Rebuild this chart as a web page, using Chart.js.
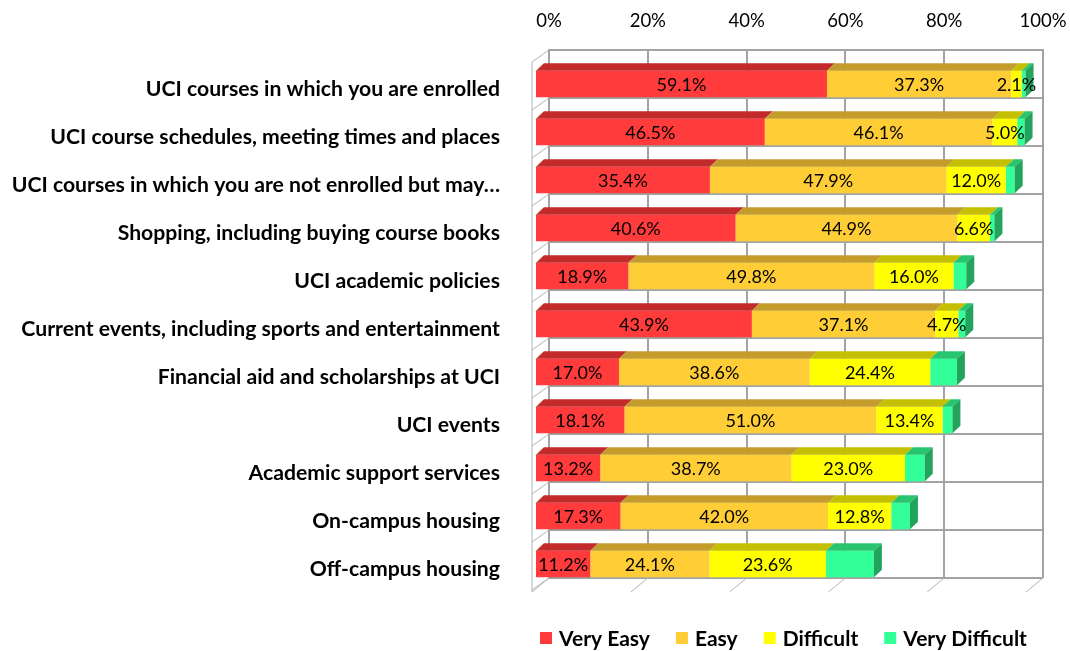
<!DOCTYPE html>
<html>
<head>
<meta charset="utf-8">
<script src="https://cdn.jsdelivr.net/npm/chart.js@4.4.1/dist/chart.umd.min.js"></script>
<style>
  html, body { margin: 0; padding: 0; background: #fff; }
  #wrap { width: 1070px; height: 651px; position: relative; }
</style>
</head>
<body>
<div id="wrap"><canvas id="chart"></canvas></div>
<script>
// ── DADOS ─────────────────────────────────────────────────────────
const categories = [
  'UCI courses in which you are enrolled',
  'UCI course schedules, meeting times and places',
  'UCI courses in which you are not enrolled but may…',
  'Shopping, including buying course books',
  'UCI academic policies',
  'Current events, including sports and entertainment',
  'Financial aid and scholarships at UCI',
  'UCI events',
  'Academic support services',
  'On-campus housing',
  'Off-campus housing'
];
const seriesNames = ['Very Easy', 'Easy', 'Difficult', 'Very Difficult'];
const veryEasy      = [59.1, 46.5, 35.4, 40.6, 18.9, 43.9, 17.0, 18.1, 13.2, 17.3, 11.2];
const easy          = [37.3, 46.1, 47.9, 44.9, 49.8, 37.1, 38.6, 51.0, 38.7, 42.0, 24.1];
const difficult     = [2.1, 5.0, 12.0, 6.6, 16.0, 4.7, 24.4, 13.4, 23.0, 12.8, 23.6];
const veryDifficult = [0.8, 1.5, 1.8, 0.9, 2.6, 1.4, 5.4, 2.0, 4.0, 3.8, 9.7];
const xTicks = [0, 20, 40, 60, 80, 100];

// ── ESTILO ────────────────────────────────────────────────────────
const frontC = ['#FF3B3B', '#FFCD35', '#FFFF00', '#33FF99'];
const topC   = ['#C22A2B', '#C49C2C', '#C4C000', '#28C46E'];
const sideC  = '#22A45C';
const gridC  = '#A3A3A3';
const FONT   = 'Lato, "Open Sans", sans-serif';
const DX = 8, DY = 7.5;              // profundidade 3D
const SHIFT_X = -14, SHIFT_Y = 10;   // face frontal vs parede do fundo

const labelled = [true, true, true, false];

const bar3d = {
  id: 'bar3d',
  beforeDatasetsDraw(chart) {
    const ctx = chart.ctx;
    const a = chart.chartArea;
    const xs = chart.scales.x;
    // parede esquerda / chão (perspectiva)
    ctx.save();
    ctx.strokeStyle = '#B4B4B4';
    ctx.lineWidth = 1;
    const fx = a.left + SHIFT_X - 3;
    ctx.beginPath();
    ctx.moveTo(fx, a.top + 12);
    ctx.lineTo(fx, a.bottom + 14);
    for (let i = 0; i <= categories.length; i++) {
      const y = a.top + (a.bottom - a.top) * i / categories.length;
      ctx.moveTo(a.left, y);
      ctx.lineTo(fx, y + 12);
    }
    xTicks.forEach(v => {
      const x = xs.getPixelForValue(v);
      ctx.moveTo(x, a.bottom);
      ctx.lineTo(x + SHIFT_X - 3, a.bottom + 14);
    });
    ctx.stroke();
    ctx.restore();

    ctx.save();
    ctx.translate(SHIFT_X, SHIFT_Y);
  },
  afterDatasetsDraw(chart) {
    const ctx = chart.ctx;
    const n = chart.data.datasets.length;
    chart.data.datasets.forEach((ds, di) => {
      const meta = chart.getDatasetMeta(di);
      meta.data.forEach(el => {
        const { x, y, base, height } = el.getProps(['x', 'y', 'base', 'height'], true);
        const t = y - height / 2;
        const b = y + height / 2;
        ctx.fillStyle = topC[di];
        ctx.beginPath();
        ctx.moveTo(base, t);
        ctx.lineTo(x, t);
        ctx.lineTo(x + DX, t - DY);
        ctx.lineTo(base + DX, t - DY);
        ctx.closePath();
        ctx.fill();
        if (di === n - 1) {
          ctx.fillStyle = sideC;
          ctx.beginPath();
          ctx.moveTo(x, t);
          ctx.lineTo(x + DX, t - DY);
          ctx.lineTo(x + DX, b - DY);
          ctx.lineTo(x, b);
          ctx.closePath();
          ctx.fill();
        }
      });
    });
    // rótulos
    ctx.fillStyle = '#000';
    ctx.font = '18px ' + FONT;
    ctx.textAlign = 'center';
    ctx.textBaseline = 'middle';
    chart.data.datasets.forEach((ds, di) => {
      if (!labelled[di]) return;
      const meta = chart.getDatasetMeta(di);
      meta.data.forEach((el, i) => {
        const { x, y, base } = el.getProps(['x', 'y', 'base'], true);
        ctx.fillText(ds.data[i].toFixed(1) + '%', (x + base) / 2, y + 1);
      });
    });
    ctx.restore();
  },
  afterDraw(chart) {
    // legenda
    const ctx = chart.ctx;
    ctx.save();
    ctx.font = 'bold 21px ' + FONT;
    ctx.textBaseline = 'middle';
    ctx.textAlign = 'left';
    let x = 540;
    const y = 638;
    seriesNames.forEach((name, i) => {
      ctx.fillStyle = frontC[i];
      ctx.fillRect(x, y - 6, 12, 12);
      ctx.fillStyle = '#000';
      ctx.fillText(name, x + 19, y + 1);
      x += 19 + ctx.measureText(name).width + 26;
    });
    ctx.restore();
  }
};

const datasets = [veryEasy, easy, difficult, veryDifficult].map((d, i) => ({
  label: seriesNames[i],
  data: d,
  backgroundColor: frontC[i],
  borderWidth: 0,
  barPercentage: 0.556,
  categoryPercentage: 1.0,
}));

new Chart(document.getElementById('chart'), {
  type: 'bar',
  data: { labels: categories, datasets },
  plugins: [bar3d],
  options: {
    indexAxis: 'y',
    responsive: true,
    maintainAspectRatio: false,
    animation: false,
    layout: { padding: { left: 0, right: 27, top: 0, bottom: 73 } },
    plugins: {
      legend: { display: false },
      tooltip: { enabled: false },
    },
    scales: {
      x: {
        position: 'top',
        stacked: true,
        min: 0, max: 100,
        afterBuildTicks: s => { s.ticks = xTicks.map(v => ({ value: v })); },
        afterFit: s => { s.height = 50; s.paddingLeft = 0; s.paddingRight = 0; },
        ticks: {
          color: '#000',
          font: { family: FONT, size: 18.5 },
          padding: 18,
          callback: v => v + '%',
        },
        grid: { color: gridC, lineWidth: 2, drawTicks: false },
        border: { color: gridC, width: 2 },
      },
      y: {
        stacked: true,
        afterFit: s => { s.width = 549; s.paddingTop = 0; s.paddingBottom = 0; },
        ticks: {
          color: '#000',
          font: { family: FONT, size: 21.2, weight: 'bold' },
          padding: 49,
          labelOffset: 15,
        },
        grid: { color: gridC, lineWidth: 2, drawTicks: false, offset: true },
        border: { color: gridC, width: 2 },
      },
    },
  },
});
</script>
</body>
</html>
